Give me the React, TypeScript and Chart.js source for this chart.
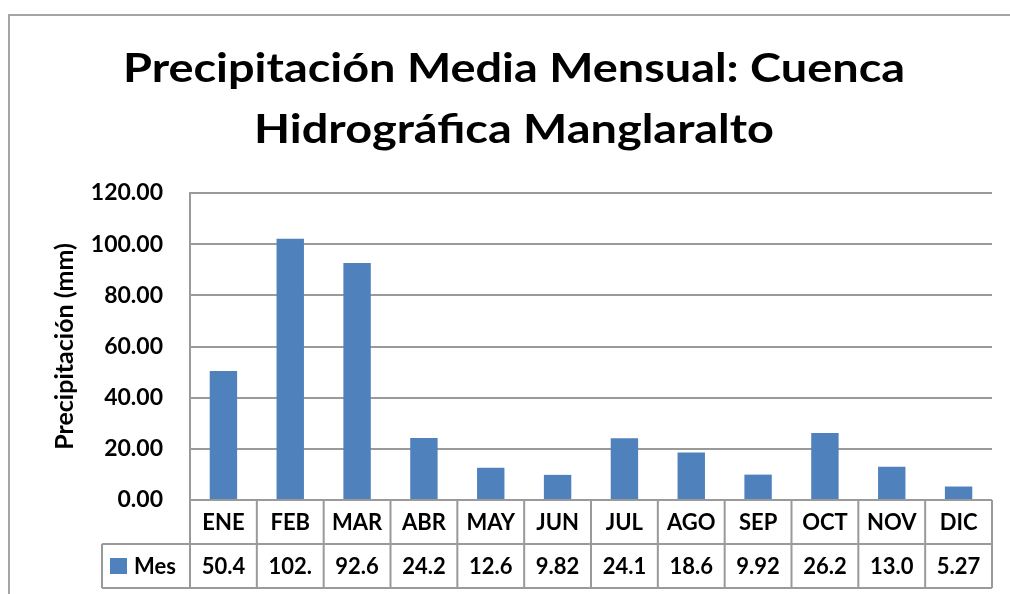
import { useEffect, useRef } from "react";
import { Chart, registerables } from "chart.js";

Chart.register(...registerables);

const titleLines = ["Precipitación Media Mensual: Cuenca", "Hidrográfica Manglaralto"];
const yAxisTitle = "Precipitación (mm)";
const seriesName = "Mes";
const months = ["ENE", "FEB", "MAR", "ABR", "MAY", "JUN", "JUL", "AGO", "SEP", "OCT", "NOV", "DIC"];
const precipitation = [50.4, 102.1, 92.6, 24.2, 12.6, 9.82, 24.1, 18.6, 9.92, 26.2, 13.0, 5.27];
const yMin = 0;
const yMax = 120;
const yStep = 20;

const FONT = "Lato, 'Open Sans', sans-serif";
const BAR = "#4f81bd";
const LINE = "#9a9a9a";

const fmtCell = (v: number) => v.toFixed(2).slice(0, 4);

const decorPlugin = {
  id: "decor",
  beforeDraw(chart: any) {
    const ctx = chart.ctx;
    ctx.save();
    ctx.fillStyle = "#fff";
    ctx.fillRect(0, 0, chart.width, chart.height);
    ctx.strokeStyle = "#a5a5a5";
    ctx.lineWidth = 2;
    ctx.beginPath();
    ctx.moveTo(9, chart.height);
    ctx.lineTo(9, 15);
    ctx.lineTo(chart.width, 15);
    ctx.stroke();
    // title (stretched horizontally to the reference's proportions)
    ctx.fillStyle = "#000";
    ctx.font = `bold 40px ${FONT}`;
    ctx.textAlign = "center";
    ctx.textBaseline = "alphabetic";
    const w = ctx.measureText(titleLines[0]).width;
    const k = w > 0 ? 782 / w : 1;
    ctx.translate(514, 0);
    ctx.scale(k, 1);
    ctx.fillText(titleLines[0], 0, 82);
    ctx.fillText(titleLines[1], 0, 143);
    ctx.restore();
  },
  afterDraw(chart: any) {
    const ctx = chart.ctx;
    const area = chart.chartArea;
    const xs = chart.scales.x;
    const top = area.bottom;
    const mid = top + 44;
    const bot = top + 88;
    const legendLeft = 102;
    const n = months.length;
    const colW = (area.right - area.left) / n;
    ctx.save();
    ctx.strokeStyle = LINE;
    ctx.lineWidth = 2;
    ctx.beginPath();
    ctx.moveTo(area.left, top);
    ctx.lineTo(area.right, top);
    ctx.moveTo(legendLeft, mid);
    ctx.lineTo(area.right, mid);
    ctx.moveTo(legendLeft, bot);
    ctx.lineTo(area.right, bot);
    for (let i = 0; i <= n; i++) {
      const x = area.left + i * colW;
      ctx.moveTo(x, top);
      ctx.lineTo(x, bot);
    }
    ctx.moveTo(legendLeft, mid);
    ctx.lineTo(legendLeft, bot);
    ctx.stroke();

    ctx.fillStyle = "#000";
    ctx.font = `bold 22px ${FONT}`;
    ctx.textAlign = "center";
    ctx.textBaseline = "middle";
    months.forEach((m, i) => {
      const cx = xs.getPixelForValue(i);
      ctx.fillText(m, cx, (top + mid) / 2 + 1);
      ctx.fillText(fmtCell(precipitation[i]), cx, (mid + bot) / 2 + 1);
    });
    ctx.fillStyle = BAR;
    ctx.fillRect(110, 558, 17, 16);
    ctx.fillStyle = "#000";
    ctx.textAlign = "left";
    ctx.fillText(seriesName, 134, (mid + bot) / 2 + 1);
    ctx.restore();
  },
};

export default function App() {
  const ref = useRef<HTMLCanvasElement | null>(null);
  useEffect(() => {
    if (!ref.current) return;
    const chart = new Chart(ref.current, {
      type: "bar",
      data: {
        labels: months,
        datasets: [
          {
            label: seriesName,
            data: precipitation,
            backgroundColor: BAR,
            borderWidth: 0,
            barPercentage: 1,
            categoryPercentage: 0.41,
          },
        ],
      },
      options: {
        responsive: false,
        animation: false,
        layout: { padding: { left: 50, top: 193, right: 18, bottom: 0 } },
        plugins: {
          legend: { display: false },
          title: { display: false },
          tooltip: { enabled: false },
        },
        scales: {
          x: {
            type: "category",
            ticks: { display: false },
            grid: { display: false },
            border: { display: false },
            afterFit: (s: any) => {
              s.height = 94;
            },
          },
          y: {
            min: yMin,
            max: yMax,
            ticks: {
              stepSize: yStep,
              padding: 27,
              color: "#000",
              font: { family: FONT, weight: "bold", size: 23 },
              callback: (v: any) => Number(v).toFixed(2),
            },
            grid: { color: LINE, lineWidth: 2, drawTicks: false },
            border: { display: true, color: LINE, width: 2 },
            title: {
              display: true,
              text: yAxisTitle,
              color: "#000",
              font: { family: FONT, weight: "bold", size: 25 },
              padding: { top: 0, bottom: 0 },
            },
            afterFit: (s: any) => {
              s.width = 140;
            },
          },
        },
      },
      plugins: [decorPlugin],
    });
    return () => chart.destroy();
  }, []);
  return (
    <div style={{ position: "absolute", left: 0, top: 0, width: 1010, height: 594 }}>
      <canvas ref={ref} width={1010} height={594} />
    </div>
  );
}
